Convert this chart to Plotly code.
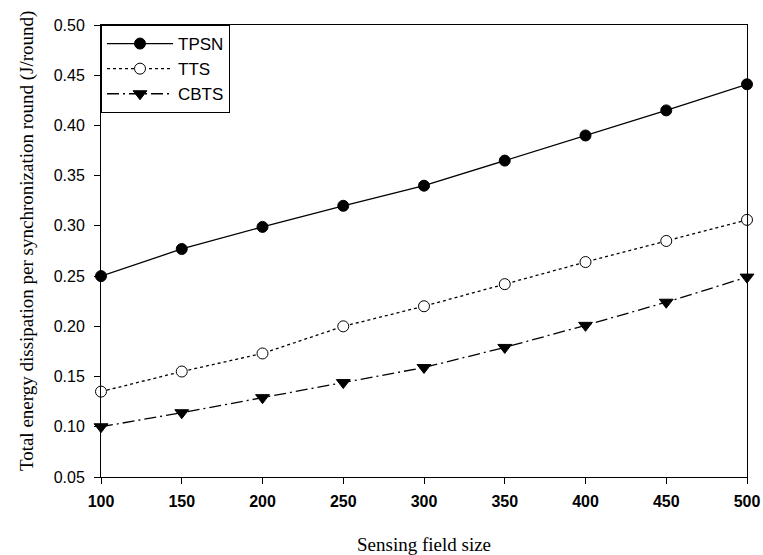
import plotly.graph_objects as go

x_vals = [100, 150, 200, 250, 300, 350, 400, 450, 500]
tpsn = [0.250, 0.277, 0.299, 0.320, 0.340, 0.365, 0.390, 0.415, 0.441]
tts = [0.135, 0.155, 0.173, 0.200, 0.220, 0.242, 0.264, 0.285, 0.306]
cbts = [0.100, 0.114, 0.129, 0.144, 0.159, 0.179, 0.201, 0.224, 0.249]

x_ticks = [100, 150, 200, 250, 300, 350, 400, 450, 500]
y_ticks = [0.05, 0.10, 0.15, 0.20, 0.25, 0.30, 0.35, 0.40, 0.45, 0.50]

x_title = "Sensing field size"
y_title = "Total energy dissipation per synchronization round (J/round)"

fig = go.Figure()
fig.add_trace(go.Scatter(
    x=x_vals, y=tpsn, name="TPSN", mode="lines+markers",
    line=dict(color="black", width=1.3, dash="solid"),
    marker=dict(symbol="circle", size=11, color="black", line=dict(color="black", width=1)),
    cliponaxis=False))
fig.add_trace(go.Scatter(
    x=x_vals, y=tts, name="TTS", mode="lines+markers",
    line=dict(color="black", width=1.3, dash="dot"),
    marker=dict(symbol="circle", size=11, color="white", line=dict(color="black", width=1)),
    cliponaxis=False))
fig.add_trace(go.Scatter(
    x=x_vals, y=cbts, name="CBTS", mode="lines+markers",
    line=dict(color="black", width=1.3, dash="12px,4px,2px,4px"),
    marker=dict(symbol="triangle-down", size=12, color="black", line=dict(color="black", width=1)),
    cliponaxis=False))

fig.update_layout(
    width=763, height=555,
    margin=dict(l=101, r=16, t=25, b=78),
    paper_bgcolor="white", plot_bgcolor="white",
    showlegend=True,
    legend=dict(x=0, y=1, xanchor="left", yanchor="top",
                bordercolor="black", borderwidth=1, bgcolor="white",
                font=dict(family="Liberation Sans, Arial", size=17, color="black"),
                tracegroupgap=0, itemwidth=66),
    font=dict(family="Liberation Sans, Arial", color="black"),
    annotations=[
        dict(text=y_title, xref="paper", yref="paper", x=-0.1146, y=0.524,
             xanchor="center", yanchor="middle", textangle=-90, showarrow=False,
             font=dict(family="Liberation Serif, Times New Roman", size=19, color="black")),
        dict(text=x_title, xref="paper", yref="paper", x=0.5, y=-0.1504,
             xanchor="center", yanchor="middle", showarrow=False,
             font=dict(family="Liberation Serif, Times New Roman", size=19, color="black")),
    ],
)
fig.update_xaxes(
    range=[100, 500], tickvals=x_ticks, ticktext=[f"<b>{v}</b>" for v in x_ticks],
    ticks="outside", ticklen=6, tickwidth=1, tickcolor="black",
    showline=True, linecolor="black", linewidth=1, mirror=True,
    showgrid=False, zeroline=False, ticklabelstandoff=4, automargin=False,
    tickfont=dict(family="Liberation Sans, Arial", size=16, color="black"),
)
fig.update_yaxes(
    range=[0.05, 0.50], tickvals=y_ticks, ticktext=[f"{v:.2f}" for v in y_ticks],
    ticks="outside", ticklen=6, tickwidth=1, tickcolor="black",
    showline=True, linecolor="black", linewidth=1, mirror=True,
    showgrid=False, zeroline=False, ticklabelstandoff=6, automargin=False,
    tickfont=dict(family="Liberation Sans, Arial", size=16, color="black"),
)

fig.write_html("out.html", config={"displayModeBar": False},
               post_script="document.body.style.margin='0';")
